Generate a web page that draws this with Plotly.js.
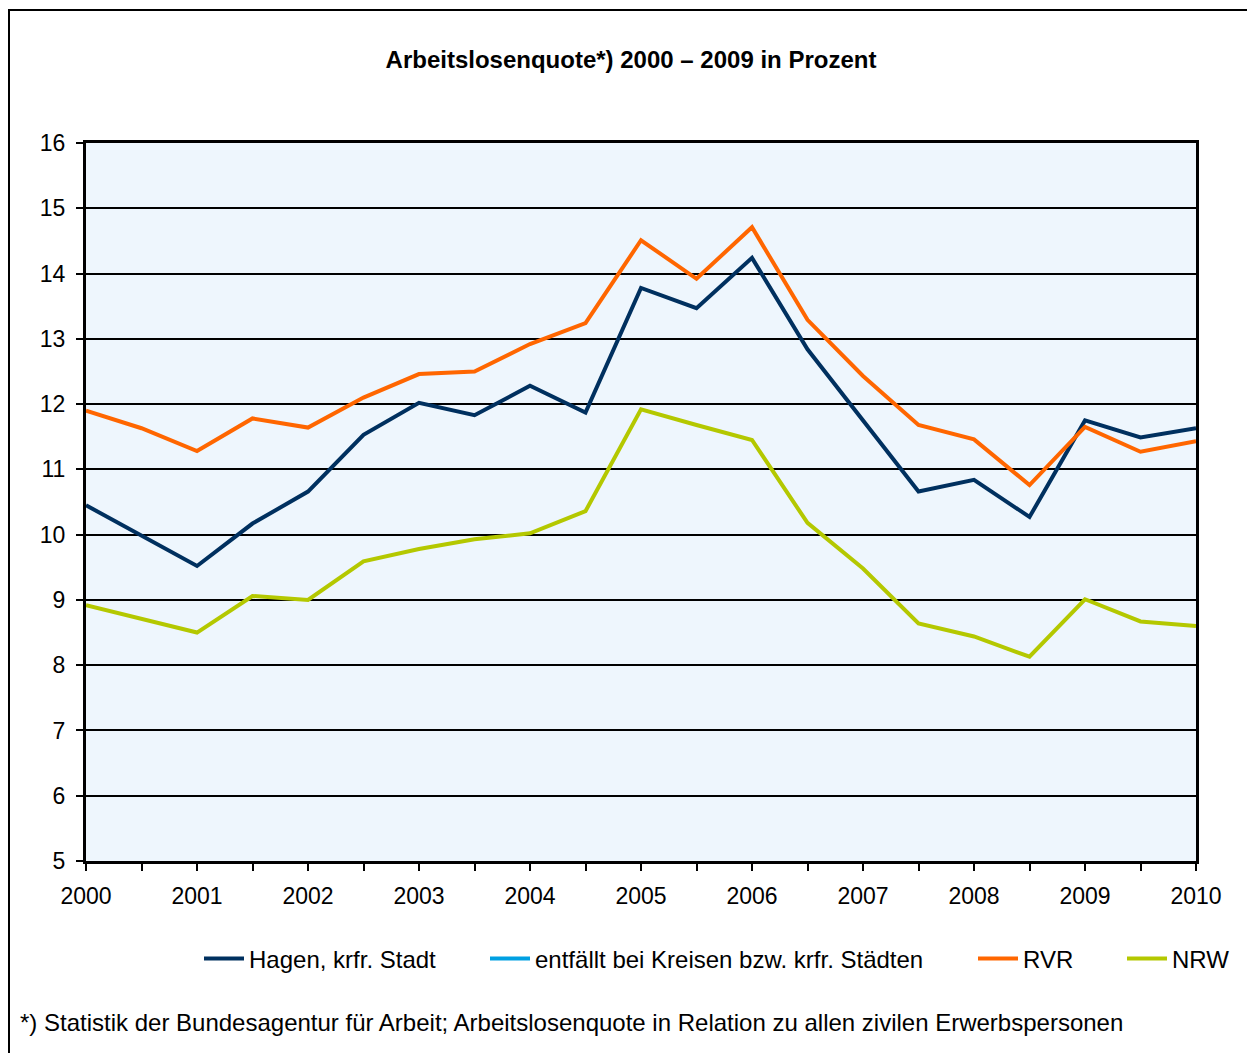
<!DOCTYPE html>
<html>
<head>
<meta charset="utf-8">
<script src="https://cdn.plot.ly/plotly-3.0.1.min.js"></script>
<style>
  html, body { margin: 0; padding: 0; background: #ffffff; }
  #chart { width: 1247px; height: 1053px; }
</style>
</head>
<body>
<div id="chart"></div>
<script>
// Half-year positions along the x axis
const periods = [2000, 2000.5, 2001, 2001.5, 2002, 2002.5, 2003, 2003.5, 2004, 2004.5,
                 2005, 2005.5, 2006, 2006.5, 2007, 2007.5, 2008, 2008.5, 2009, 2009.5, 2010];

const hagen = [10.45, 9.99, 9.52, 10.17, 10.66, 11.53, 12.02, 11.83, 12.28, 11.87,
               13.78, 13.47, 14.24, 12.84, 11.75, 10.66, 10.84, 10.27, 11.75, 11.49, 11.63];
const kreise = [];
const rvr = [11.90, 11.63, 11.28, 11.78, 11.64, 12.10, 12.46, 12.50, 12.92, 13.24,
             14.51, 13.92, 14.71, 13.29, 12.43, 11.68, 11.46, 10.76, 11.65, 11.27, 11.43];
const nrw = [8.92, 8.71, 8.50, 9.06, 9.00, 9.59, 9.78, 9.93, 10.02, 10.36,
             11.92, 11.68, 11.45, 10.18, 9.48, 8.64, 8.44, 8.13, 9.01, 8.67, 8.60];

const seriesNames = ["Hagen, krfr. Stadt", "entfällt bei Kreisen bzw. krfr. Städten", "RVR", "NRW"];
const seriesColors = ["#00305F", "#00A0E2", "#FF6600", "#B4C800"];

const xTickVals = periods;
const xTickText = ["2000", "", "2001", "", "2002", "", "2003", "", "2004", "",
                   "2005", "", "2006", "", "2007", "", "2008", "", "2009", "", "2010"];
const yTickVals = [5, 6, 7, 8, 9, 10, 11, 12, 13, 14, 15, 16];

const titleText = "Arbeitslosenquote*) 2000 – 2009 in Prozent";
const footnote = "*) Statistik der Bundesagentur für Arbeit; Arbeitslosenquote in Relation zu allen zivilen Erwerbspersonen";

const FONT = "Liberation Sans, Arial, sans-serif";
const seriesData = [hagen, kreise, rvr, nrw];
const legendIds = ["legend", "legend2", "legend3", "legend4"];

const traces = seriesData.map((vals, i) => ({
  type: "scatter",
  mode: "lines",
  name: seriesNames[i],
  legend: legendIds[i],
  x: vals.length ? periods : [null],
  y: vals.length ? vals : [null],
  line: { color: seriesColors[i], width: 4 },
  hoverinfo: "x+y+name"
}));

// geometry helpers (pixel -> paper)
const W = 1247, H = 1053;
const M = { l: 86, r: 51, t: 143, b: 192 };
const PW = W - M.l - M.r, PH = H - M.t - M.b;
const px = x => (x - M.l) / PW;
const py = y => (H - M.b - y) / PH;

// text start positions of the legend entries (pixels), minus swatch offset
const legendTextX = [249, 535, 1023, 1172];
function legendBox(xText) {
  return {
    orientation: "h",
    x: px(xText - 50), xanchor: "left",
    y: py(959), yanchor: "middle",
    font: { family: FONT, size: 24, color: "#000000" },
    bgcolor: "rgba(0,0,0,0)",
    itemwidth: 40
  };
}

const layout = {
  width: W, height: H,
  margin: M,
  paper_bgcolor: "#ffffff",
  plot_bgcolor: "#EEF6FD",
  font: { family: FONT, color: "#000000", size: 24 },
  title: {
    text: "<b>" + titleText + "</b>",
    font: { family: FONT, size: 24, color: "#000000" },
    x: 631 / W, xanchor: "center", xref: "container",
    y: 1 - 60 / H, yanchor: "middle", yref: "container"
  },
  xaxis: {
    range: [2000, 2010],
    tickmode: "array",
    tickvals: xTickVals,
    ticktext: xTickText,
    ticks: "outside",
    ticklen: 7,
    tickwidth: 2,
    tickcolor: "#000000",
    ticklabelstandoff: 5,
    showline: true, linecolor: "#000000", linewidth: 3, mirror: true,
    showgrid: false, zeroline: false,
    tickfont: { family: FONT, size: 23, color: "#000000" }
  },
  yaxis: {
    range: [5, 16],
    tickmode: "array",
    tickvals: yTickVals,
    ticks: "outside",
    ticklen: 7,
    tickwidth: 2,
    tickcolor: "#000000",
    ticklabelstandoff: 6,
    showline: true, linecolor: "#000000", linewidth: 3, mirror: true,
    showgrid: true, gridcolor: "#000000", gridwidth: 2,
    zeroline: false,
    tickfont: { family: FONT, size: 23, color: "#000000" }
  },
  showlegend: true,
  legend: legendBox(legendTextX[0]),
  legend2: legendBox(legendTextX[1]),
  legend3: legendBox(legendTextX[2]),
  legend4: legendBox(legendTextX[3]),
  annotations: [{
    text: footnote,
    xref: "paper", yref: "paper",
    x: px(18), xanchor: "left",
    y: py(1022), yanchor: "middle",
    showarrow: false,
    font: { family: FONT, size: 24, color: "#000000" }
  }],
  shapes: [{
    type: "rect", xref: "paper", yref: "paper",
    x0: px(9), x1: px(1300), y0: py(1100), y1: py(10),
    line: { color: "#000000", width: 2 },
    fillcolor: "rgba(0,0,0,0)",
    layer: "below"
  }]
};

Plotly.newPlot("chart", traces, layout, { displayModeBar: false, staticPlot: true });
</script>
</body>
</html>
